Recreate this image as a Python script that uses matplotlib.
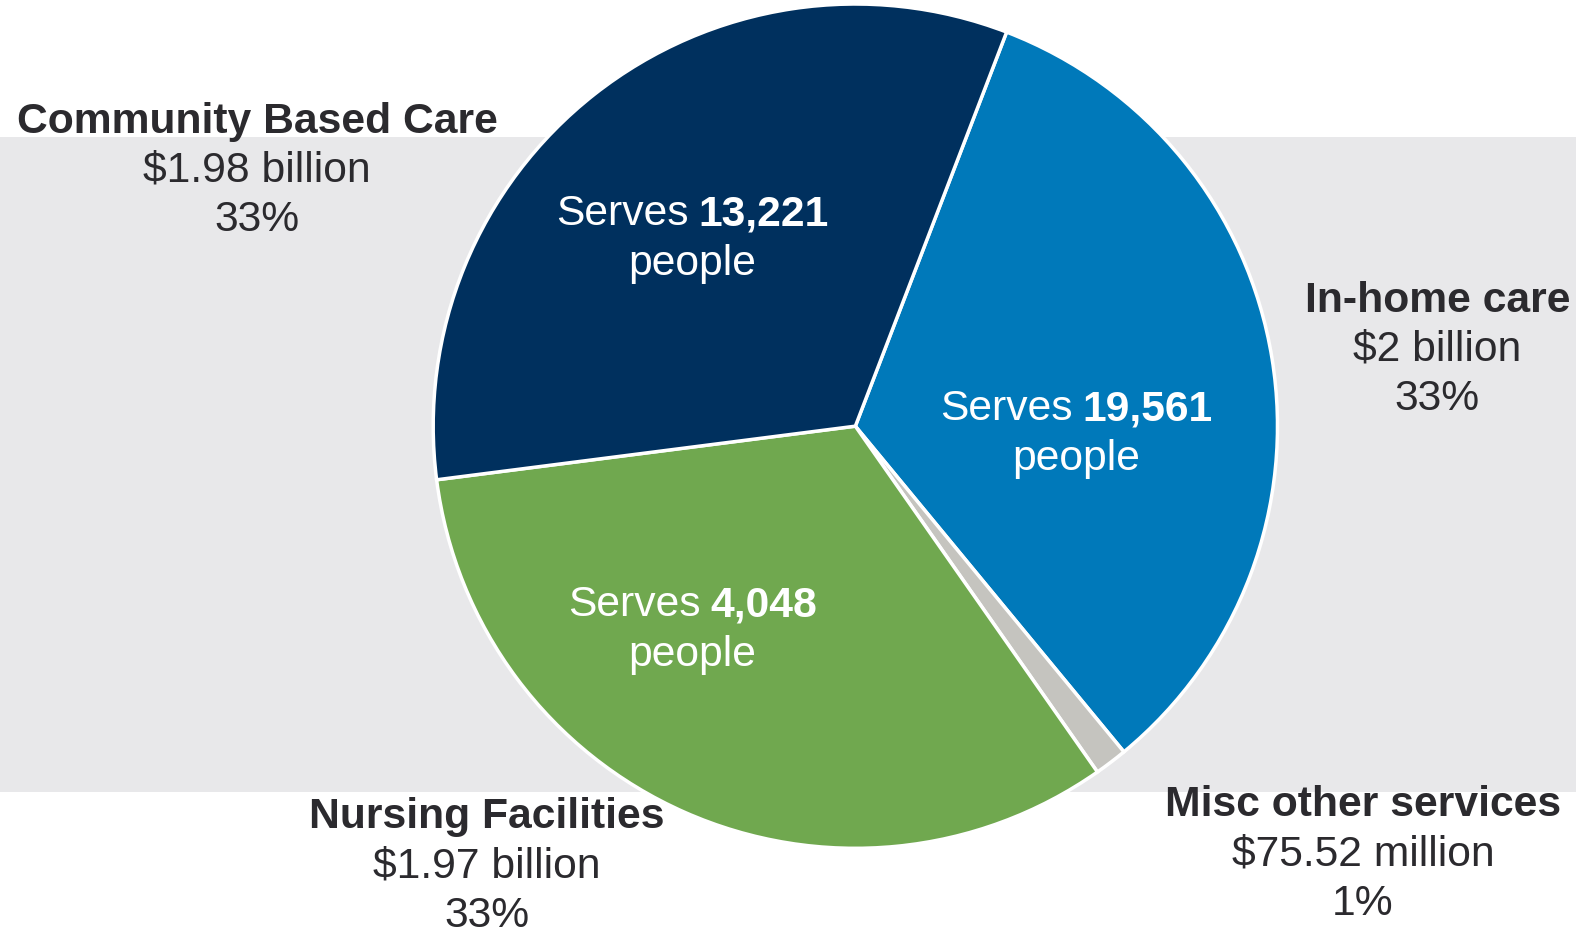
import matplotlib
matplotlib.use('Agg')
import matplotlib.pyplot as plt

# canvas in pixels
W, H = 1576, 929
S = 1576 / 1568

categories = ['In-home care', 'Misc other services', 'Nursing Facilities', 'Community Based Care']
amounts = [2.0, 0.07552, 1.97, 1.98]          # billions of dollars
amount_labels = ['$2 billion', '$75.52 million', '$1.97 billion', '$1.98 billion']
pct_labels = ['33%', '1%', '33%', '33%']
people = ['19,561', None, '4,048', '13,221']
colors = ['#0079BA', '#C5C4BF', '#70A84F', '#00305E']

TXT = '#2B2A2E'
FONT = 'Liberation Sans'
FS = 30.7
DY = 4  # small vertical nudge for text
LS = 49 * S

plt.rcParams['font.family'] = [FONT, 'DejaVu Sans']

fig = plt.figure(figsize=(W / 100, H / 100), dpi=100)
ax = fig.add_axes([0, 0, 1, 1])

# grey background band
ax.axhspan(H - 793, H - 138, color='#E8E8EA', zorder=0, lw=0)

ax.pie(amounts, colors=colors, startangle=69, counterclock=False,
       center=(851 * S, H - 425 * S), radius=420 * S,
       wedgeprops=dict(edgecolor='white', linewidth=2.5), frame=True)

ax.set_xlim(0, W)
ax.set_ylim(0, H)
ax.set_aspect('equal')
ax.axis('off')

# outside labels (x center, y of first line in px)
outside_pos = {
    'In-home care': (1430, 295),
    'Misc other services': (1356, 797),
    'Nursing Facilities': (484, 809),
    'Community Based Care': (256, 117),
}
for i, cat in enumerate(categories):
    x, y = outside_pos[cat]
    x, y = x * S, y * S + DY
    ax.text(x, H - y, cat, ha='center', va='center', fontsize=FS,
            fontweight='bold', color=TXT)
    ax.text(x, H - y - LS, amount_labels[i], ha='center', va='center',
            fontsize=FS, color=TXT)
    ax.text(x, H - y - 2 * LS, pct_labels[i], ha='center', va='center',
            fontsize=FS, color=TXT)

# inside labels
inside_pos = {
    'In-home care': (1071, 403),
    'Nursing Facilities': (689, 598),
    'Community Based Care': (689, 209),
}
renderer = fig.canvas.get_renderer()
for i, cat in enumerate(categories):
    if people[i] is None:
        continue
    x, y = inside_pos[cat]
    x, y = x * S, y * S + DY
    t1 = ax.text(0, H - y, 'Serves', ha='left', va='center', fontsize=FS, color='white')
    t2 = ax.text(0, H - y, people[i], ha='left', va='center', fontsize=FS,
                 fontweight='bold', color='white')
    w1 = t1.get_window_extent(renderer).width
    w2 = t2.get_window_extent(renderer).width
    gap = 10
    left = x - (w1 + gap + w2) / 2
    t1.set_x(left)
    t2.set_x(left + w1 + gap)
    ax.text(x, H - y - 50 * S, 'people', ha='center', va='center', fontsize=FS, color='white')

fig.savefig('out.png', dpi=100, facecolor='white')
